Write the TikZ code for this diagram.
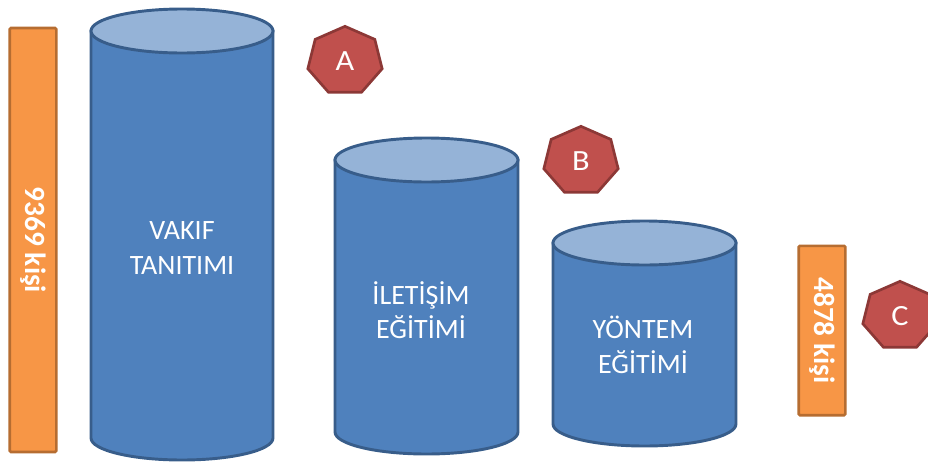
\documentclass[tikz,border=0pt]{standalone}
\usepackage{fontspec}
\setmainfont{Carlito}
\usepackage{tikz}
\usetikzlibrary{positioning,shapes.geometric}
\definecolor{cylblue}{HTML}{4F81BD}
\definecolor{cyltopblue}{HTML}{95B3D7}
\definecolor{cylline}{HTML}{385D8A}
\definecolor{barorange}{HTML}{F79646}
\definecolor{barline}{HTML}{B66D31}
\definecolor{heptred}{HTML}{C0504D}
\definecolor{heptline}{HTML}{8C3836}
% #1 centre x, #2 half width, #3 top y, #4 bottom y
\newcommand{\cylinderat}[4]{%
  \draw[cylbody] ({#1-#2},#3) -- ({#1-#2},#4)
    arc[start angle=180, end angle=0, x radius=#2, y radius=22] -- ({#1+#2},#3) -- cycle;
  \draw[cyltop] (#1,#3) ellipse[x radius=#2, y radius=22];
}

\begin{document}
\begin{tikzpicture}[x=0.75pt, y=-0.75pt,
  cylbody/.style={draw=cylline, fill=cylblue, line width=2.2pt},
  cyltop/.style={draw=cylline, fill=cyltopblue, line width=2.2pt},
  cyllabel/.style={text=white, align=center, font=\fontsize{21}{26}\selectfont},
  countbar/.style={draw=barline, fill=barorange, line width=2pt, rounded corners=1pt,
    rotate=-90, minimum height=35pt, inner sep=0pt, text=white,
    font=\bfseries\fontsize{22}{26}\selectfont},
  hepta/.style={regular polygon, regular polygon sides=7, draw=heptline, fill=heptred,
    line width=2pt, minimum size=52pt, inner sep=0pt, xscale=1.1, text=white,
    font=\fontsize{22}{26}\selectfont}]
\useasboundingbox (0,0) rectangle (928,461);

\cylinderat{182}{91}{31}{438}
\cylinderat{426.5}{91.5}{160}{432}
\cylinderat{644.5}{91.5}{243}{424}

\node[cyllabel] (vakif) at (182,248) {VAKIF\\TANITIMI};
\node[cyllabel] (iletisim) at (421,310) {İLETİŞİM\\EĞİTİMİ};
\node[cyllabel] (yontem) at (643,345) {YÖNTEM\\EĞİTİMİ};

\node[countbar, minimum width=318pt] (total) at (33,240) {9369 kişi};
\node[countbar, minimum width=127pt] (remain) at (822,330.5) {4878 kişi};

\node[hepta] (hepA) at (345,61) {A};
\node[hepta] (hepB) at (581,161) {B};
\node[hepta] (hepC) at (900,316) {C};
\end{tikzpicture}
\end{document}
